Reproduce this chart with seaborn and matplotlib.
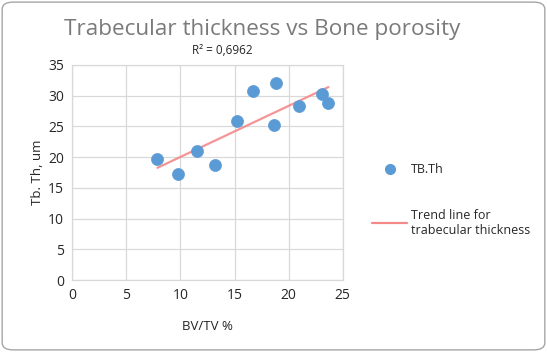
import numpy as np
import pandas as pd
import matplotlib
matplotlib.use("Agg")
import matplotlib.pyplot as plt
import seaborn as sns
from matplotlib.patches import FancyBboxPatch
from matplotlib.lines import Line2D

bv_tv = [7.87, 9.79, 11.52, 13.15, 15.22, 16.70, 18.80, 18.65, 20.96, 23.09, 23.68]
tb_th = [19.65, 17.26, 21.00, 18.72, 25.88, 30.77, 32.00, 25.28, 28.38, 30.28, 28.87]
x_ticks = [0, 5, 10, 15, 20, 25]
y_ticks = [0, 5, 10, 15, 20, 25, 30, 35]
r2_label = "R² = 0,6962"

df = pd.DataFrame({"BV/TV %": bv_tv, "Tb. Th, um": tb_th})

sns.set_theme(style="white")
FONT = ["Open Sans", "DejaVu Sans"]
plt.rcParams["font.family"] = FONT

fig = plt.figure(figsize=(5.47, 3.52), dpi=100)
ax = fig.add_axes([72.3 / 547, 1 - 280 / 352, (342.7 - 72.3) / 547, (280 - 65) / 352])

sns.regplot(data=df, x="BV/TV %", y="Tb. Th, um", ax=ax, scatter=False, ci=None,
            line_kws=dict(color="#f4898a", lw=1.6, alpha=0.9))
sns.scatterplot(data=df, x="BV/TV %", y="Tb. Th, um", ax=ax, s=75, color="#5b9bd5",
                edgecolor="#5b9bd5", linewidth=0.5, zorder=3)

ax.set_xlim(0, 25)
ax.set_ylim(0, 35)
ax.set_xticks(x_ticks)
ax.set_yticks(y_ticks)
ax.grid(True, color="#d9d9d9", lw=0.9)
ax.set_axisbelow(True)
for s in ax.spines.values():
    s.set_color("#d9d9d9")
    s.set_linewidth(0.9)
ax.tick_params(length=0, labelsize=10, colors="#262626", pad=6)
ax.set_xlabel("BV/TV %", fontsize=9.5, color="#262626", labelpad=12)
ax.set_ylabel("Tb. Th, um", fontsize=9.5, color="#262626", labelpad=3)

fig.text(262 / 547, 1 - 30 / 352, "Trabecular thickness vs Bone porosity", ha="center", va="center",
         fontsize=16.2, color="#7a7a7a")
fig.text(222 / 547, 1 - 51 / 352, r2_label, ha="center", va="center", fontsize=8.5, color="#262626")

# legend
handles = [Line2D([], [], marker="o", ls="none", color="#5b9bd5", markersize=7),
           Line2D([], [], color="#f4898a", lw=1.6)]
leg = fig.legend(handles, ["TB.Th", "Trend line for\ntrabecular thickness"],
                 loc="upper left", bbox_to_anchor=(361 / 547, 1 - 152 / 352),
                 frameon=False, fontsize=9, labelspacing=2.6, handlelength=2.8,
                 handletextpad=0.3, labelcolor="#262626")

border = FancyBboxPatch((0.004, 0.006), 0.992, 0.988, boxstyle="round,pad=0,rounding_size=0.02",
                        transform=fig.transFigure, fill=False, edgecolor="#a6a6a6", lw=1.0)
fig.patches.append(border)

fig.savefig("out.png", dpi=100)
